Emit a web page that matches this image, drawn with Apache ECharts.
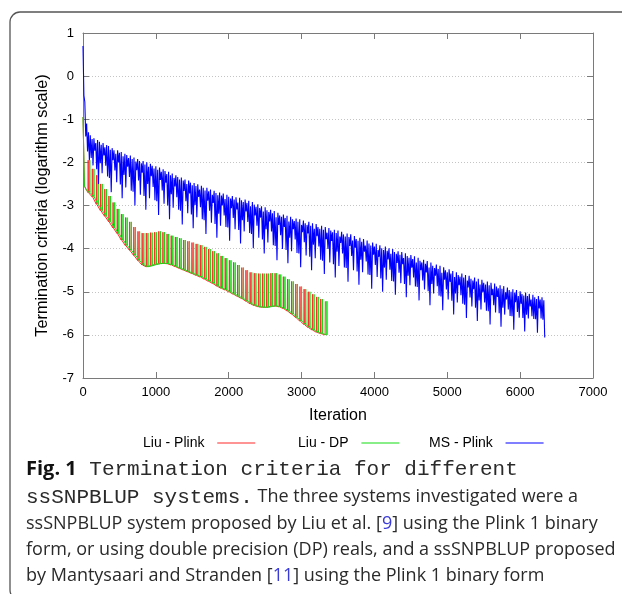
<!DOCTYPE html>
<html><head><meta charset="utf-8">
<script src="https://cdn.jsdelivr.net/npm/echarts@6/dist/echarts.min.js"></script>
<style>html,body{margin:0;padding:0;background:#fff}#c{width:622px;height:594px}</style>
</head><body><div id="c"></div>
<script>
// ---- data ----
const seriesNames = ['Liu - Plink', 'Liu - DP', 'MS - Plink'];
const xAxisTicks = [0, 1000, 2000, 3000, 4000, 5000, 6000, 7000];
const yAxisTicks = [1, 0, -1, -2, -3, -4, -5, -6, -7];

// Liu systems: start of the curve, then periodic restarts (spikes) above a smooth envelope
const liuStartIter = [0, 20, 50];
const liuStartVal = [-0.95, -2.55, -2.65];
const liuSpikeIter = [90,147,204,261,318,375,432,489,546,603,660,717,774,831,888,945,1002,1059,1116,1173,1230,1287,1344,1401,1458,1515,1572,1629,1686,1743,1800,1857,1914,1971,2028,2085,2142,2199,2256,2313,2370,2427,2484,2541,2598,2655,2712,2769,2826,2883,2940,2997,3054,3111,3168,3225,3282,3345];
const liuLow = [-2.70,-2.80,-2.97,-3.12,-3.25,-3.38,-3.52,-3.65,-3.80,-3.93,-4.04,-4.16,-4.28,-4.38,-4.42,-4.40,-4.37,-4.35,-4.34,-4.35,-4.38,-4.42,-4.46,-4.50,-4.54,-4.58,-4.62,-4.66,-4.71,-4.76,-4.81,-4.87,-4.92,-4.96,-5.01,-5.06,-5.11,-5.16,-5.22,-5.28,-5.32,-5.35,-5.36,-5.36,-5.34,-5.33,-5.35,-5.39,-5.45,-5.52,-5.60,-5.68,-5.76,-5.83,-5.89,-5.94,-5.97,-6.00];
const liuTop = [-1.95,-2.15,-2.30,-2.50,-2.62,-2.78,-2.93,-3.08,-3.20,-3.28,-3.38,-3.50,-3.60,-3.64,-3.64,-3.63,-3.62,-3.60,-3.62,-3.66,-3.70,-3.73,-3.76,-3.80,-3.83,-3.86,-3.89,-3.92,-3.96,-4.01,-4.06,-4.11,-4.17,-4.22,-4.27,-4.32,-4.38,-4.44,-4.50,-4.55,-4.57,-4.58,-4.58,-4.58,-4.57,-4.57,-4.60,-4.65,-4.71,-4.76,-4.82,-4.88,-4.94,-5.00,-5.06,-5.12,-5.17,-5.22];
const liuDpEndVal = -6.0;

// MS - Plink: peaks (every 25 iterations from 0) and troughs (half-way between)
const msStep = 25;
const msPeak = [0.70,-0.60,-1.10,-1.30,-1.37,-1.46,-1.44,-1.55,-1.48,-1.52,-1.59,-1.55,-1.65,-1.60,-1.62,-1.71,-1.67,-1.72,-1.80,-1.72,-1.78,-1.76,-1.86,-1.80,-1.83,-1.90,-1.84,-1.92,-1.89,-1.98,-1.92,-1.97,-2.02,-1.97,-2.05,-2.00,-2.10,-2.03,-2.08,-2.14,-2.09,-2.17,-2.12,-2.22,-2.16,-2.20,-2.27,-2.22,-2.30,-2.26,-2.36,-2.30,-2.34,-2.40,-2.35,-2.42,-2.40,-2.50,-2.42,-2.47,-2.53,-2.48,-2.55,-2.51,-2.63,-2.54,-2.59,-2.65,-2.59,-2.67,-2.63,-2.75,-2.66,-2.71,-2.76,-2.70,-2.77,-2.72,-2.85,-2.75,-2.80,-2.84,-2.78,-2.86,-2.81,-2.93,-2.82,-2.88,-2.92,-2.86,-2.94,-2.89,-3.02,-2.92,-2.98,-3.03,-2.97,-3.06,-3.02,-3.14,-3.04,-3.11,-3.15,-3.10,-3.18,-3.13,-3.27,-3.17,-3.23,-3.26,-3.21,-3.29,-3.24,-3.37,-3.26,-3.32,-3.36,-3.30,-3.38,-3.32,-3.45,-3.35,-3.41,-3.45,-3.38,-3.47,-3.41,-3.54,-3.43,-3.50,-3.54,-3.47,-3.56,-3.50,-3.63,-3.52,-3.58,-3.62,-3.56,-3.64,-3.58,-3.72,-3.61,-3.67,-3.72,-3.65,-3.73,-3.67,-3.81,-3.71,-3.78,-3.82,-3.75,-3.84,-3.78,-3.93,-3.81,-3.88,-3.93,-3.86,-3.95,-3.89,-4.03,-3.92,-3.99,-4.03,-3.95,-4.05,-3.99,-4.12,-4.01,-4.08,-4.12,-4.06,-4.14,-4.08,-4.22,-4.11,-4.17,-4.21,-4.15,-4.24,-4.18,-4.32,-4.21,-4.28,-4.32,-4.26,-4.35,-4.29,-4.44,-4.32,-4.40,-4.45,-4.37,-4.47,-4.40,-4.56,-4.43,-4.50,-4.55,-4.48,-4.58,-4.52,-4.66,-4.55,-4.61,-4.65,-4.58,-4.67,-4.61,-4.74,-4.63,-4.70,-4.74,-4.67,-4.76,-4.70,-4.83,-4.72,-4.79,-4.83,-4.76,-4.85,-4.79,-4.93,-4.81,-4.88,-4.92,-4.85,-4.93,-4.87,-5.01,-4.90,-4.96,-5.00,-4.94,-5.02,-4.96,-5.10,-4.99,-5.05,-5.09,-5.02,-5.10,-5.05,-5.18,-5.07,-5.13,-5.17,-5.10,-5.18,-5.13,-5.20];
const msTrough = [-0.45,-1.40,-1.75,-1.95,-1.90,-2.07,-1.73,-2.16,-2.50,-2.02,-2.25,-1.84,-2.08,-2.33,-2.36,-2.69,-1.95,-2.19,-2.46,-2.00,-2.51,-2.83,-2.29,-2.58,-2.10,-2.34,-2.66,-2.68,-3.00,-2.18,-2.42,-2.75,-2.24,-2.78,-3.10,-2.50,-2.83,-2.32,-2.57,-2.88,-2.90,-3.22,-2.41,-2.65,-2.96,-2.47,-3.00,-3.32,-2.74,-3.05,-2.56,-2.81,-3.10,-3.12,-3.44,-2.66,-2.90,-3.18,-2.72,-3.21,-3.53,-2.99,-3.27,-2.80,-3.04,-3.32,-3.34,-3.66,-2.89,-3.12,-3.40,-2.94,-3.43,-3.75,-3.19,-3.47,-3.00,-3.23,-3.50,-3.51,-3.82,-3.06,-3.29,-3.55,-3.09,-3.57,-3.88,-3.34,-3.60,-3.14,-3.38,-3.64,-3.66,-3.99,-3.23,-3.47,-3.75,-3.28,-3.79,-4.11,-3.55,-3.86,-3.37,-3.60,-3.92,-3.94,-4.27,-3.45,-3.69,-4.01,-3.50,-4.03,-4.34,-3.75,-4.06,-3.55,-3.79,-4.10,-4.11,-4.43,-3.62,-3.85,-4.16,-3.65,-4.19,-4.50,-3.91,-4.22,-3.71,-3.95,-4.26,-4.28,-4.59,-3.78,-4.01,-4.32,-3.82,-4.36,-4.67,-4.07,-4.40,-3.87,-4.11,-4.44,-4.45,-4.77,-3.94,-4.17,-4.50,-3.98,-4.53,-4.84,-4.26,-4.55,-4.07,-4.30,-4.60,-4.61,-4.93,-4.14,-4.38,-4.66,-4.19,-4.69,-5.00,-4.44,-4.72,-4.25,-4.49,-4.75,-4.76,-5.07,-4.33,-4.56,-4.80,-4.36,-4.82,-5.13,-4.63,-4.85,-4.44,-4.67,-4.88,-4.89,-5.20,-4.50,-4.74,-4.95,-4.55,-4.99,-5.31,-4.82,-5.04,-4.63,-4.87,-5.09,-5.11,-5.43,-4.72,-4.95,-5.18,-4.77,-5.21,-5.53,-5.04,-5.25,-4.85,-5.08,-5.28,-5.30,-5.61,-4.90,-5.13,-5.34,-4.94,-5.37,-5.68,-5.20,-5.41,-5.01,-5.25,-5.44,-5.45,-5.76,-5.08,-5.31,-5.48,-5.12,-5.50,-5.81,-5.37,-5.53,-5.18,-5.41,-5.56,-5.57,-5.88,-5.24,-5.47,-5.60,-5.28,-5.61,-5.92,-5.53,-5.62,-5.34,-5.57,-5.63,-5.64,-5.95,-5.39,-5.62,-5.65,-6.06];

// ---- build series data ----
function liuData(shift, endLow) {
  const d = [];
  for (let i = 0; i < liuStartIter.length; i++) d.push([liuStartIter[i], liuStartVal[i]]);
  for (let i = 0; i < liuSpikeIter.length; i++) {
    const x = liuSpikeIter[i] + shift;
    const last = i === liuSpikeIter.length - 1;
    d.push([x, liuLow[i]]);
    d.push([x + 3, liuTop[i]]);
    if (!last) d.push([x + 7, liuLow[i]]);
    else if (endLow) d.push([x + 7, liuDpEndVal]);
  }
  return d;
}
const msData = [];
const msN = Math.min(msPeak.length, msTrough.length);
for (let k = 0; k < msN; k++) {
  msData.push([k * msStep, msPeak[k]]);
  msData.push([k * msStep + msStep / 2, msTrough[k]]);
}

const FONT = 'Liberation Sans';
const axisGray = '#7a7a7a';
const colors = ['#ff2a2a', '#12e012', '#0000ff'];

const chart = echarts.init(document.getElementById('c'), null, {renderer: 'canvas'});
const baseX = {type: 'value', min: 0, max: 7000, interval: 1000,
  axisLine: {show: true, onZero: false, lineStyle: {color: axisGray, width: 1}},
  axisTick: {show: true, inside: true, length: 6, lineStyle: {color: axisGray}},
  splitLine: {show: false}};
const baseY = {type: 'value', min: -7, max: 1, interval: 1,
  axisLine: {show: true, onZero: false, lineStyle: {color: axisGray, width: 1}},
  axisTick: {show: true, inside: true, length: 6, lineStyle: {color: axisGray}}};

const legendBase = {top: 436, orient: 'horizontal', align: 'right', padding: 0, selectedMode: false,
  itemWidth: 38, itemHeight: 1.2, icon: 'rect', formatter: '{name}  ',
  textStyle: {fontFamily: FONT, fontSize: 14, color: '#000'}};

const capSans = 'Open Sans';
const capColor = '#2a2a2a';
const rich = {
  b: {fontFamily: capSans, fontWeight: 'bold', fontSize: 20, fill: '#111', color: '#111'},
  m: {fontFamily: 'Liberation Mono', fontSize: 21, fill: capColor, color: capColor},
  s: {fontFamily: capSans, fontSize: 18, fill: capColor, color: capColor},
  l: {fontFamily: capSans, fontSize: 18, fill: '#3a3ad8', color: '#3a3ad8'}
};
function capLine(y, text) {
  return {type: 'text', x: 26, y: y, silent: true,
    style: {text: text, rich: rich, verticalAlign: 'middle', align: 'left'}};
}

chart.setOption({
  animation: false,
  backgroundColor: '#fff',
  color: colors,
  grid: {left: 83, right: 29, top: 33, bottom: 216, containLabel: false, outerBoundsMode: 'none'},
  xAxis: [
    Object.assign({}, baseX, {position: 'bottom',
      axisLabel: {color: '#000', fontFamily: FONT, fontSize: 13, margin: 8,
        formatter: v => xAxisTicks.indexOf(v) >= 0 ? String(v) : ''},
      name: 'Iteration', nameLocation: 'middle', nameGap: 30,
      nameTextStyle: {fontFamily: FONT, fontSize: 16, color: '#000'}}),
    Object.assign({}, baseX, {position: 'top', axisLabel: {show: false}})
  ],
  yAxis: [
    Object.assign({}, baseY, {position: 'left',
      axisLabel: {color: '#000', fontFamily: FONT, fontSize: 13, margin: 9,
        formatter: v => yAxisTicks.indexOf(v) >= 0 ? String(v) : ''},
      splitLine: {show: true, lineStyle: {color: '#c4c4c4', type: [1, 2], width: 1}},
      name: 'Termination criteria (logarithm scale)', nameLocation: 'middle', nameGap: 32,
      nameTextStyle: {fontFamily: FONT, fontSize: 16.3, color: '#000'}}),
    Object.assign({}, baseY, {position: 'right', axisLabel: {show: false}, splitLine: {show: false}})
  ],
  legend: [
    Object.assign({}, legendBase, {left: 143, data: [seriesNames[0]]}),
    Object.assign({}, legendBase, {left: 298, data: [seriesNames[1]]}),
    Object.assign({}, legendBase, {left: 429, data: [seriesNames[2]]})
  ],
  series: [
    {name: seriesNames[0], type: 'line', data: liuData(-22, false), showSymbol: false, symbol: 'none',
      lineStyle: {width: 1, color: colors[0]}, sampling: null, z: 2},
    {name: seriesNames[1], type: 'line', data: liuData(0, true), showSymbol: false, symbol: 'none',
      lineStyle: {width: 1, color: colors[1]}, sampling: null, z: 3},
    {name: seriesNames[2], type: 'line', data: msData, showSymbol: false, symbol: 'none',
      lineStyle: {width: 1.1, color: colors[2]}, sampling: null, z: 4}
  ],
  graphic: [
    {type: 'rect', silent: true, shape: {x: 10, y: 12, width: 640, height: 588, r: 10},
      style: {fill: 'none', stroke: '#555', lineWidth: 1.3}},
    capLine(469, '{b|Fig. 1}{m| Termination criteria for different}'),
    capLine(497, '{m|ssSNPBLUP systems.}{s| The three systems investigated were a}'),
    capLine(524, '{s|ssSNPBLUP system proposed by Liu et al. [}{l|9}{s|] using the Plink 1 binary}'),
    capLine(550, '{s|form, or using double precision (DP) reals, and a ssSNPBLUP proposed}'),
    capLine(576, '{s|by Mantysaari and Stranden [}{l|11}{s|] using the Plink 1 binary form}')
  ]
});
</script></body></html>
